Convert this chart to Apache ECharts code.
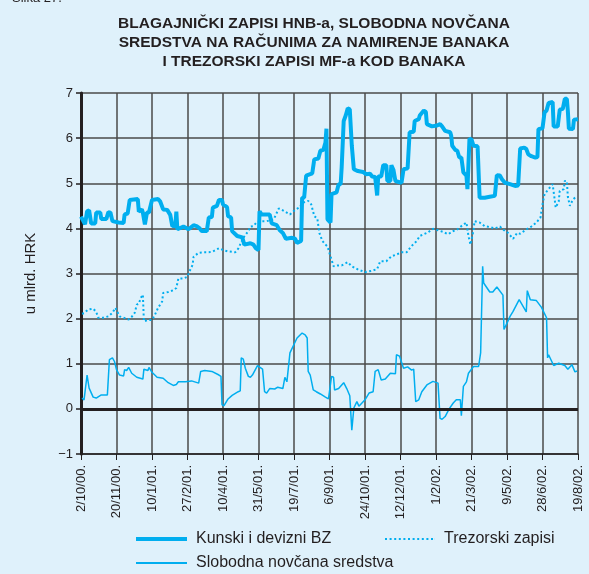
<!DOCTYPE html>
<html>
<head>
<meta charset="utf-8">
<script src="https://cdn.jsdelivr.net/npm/echarts@6/dist/echarts.min.js"></script>
<style>
  html, body { margin: 0; padding: 0; background: #dff1fb; }
  #chart { width: 589px; height: 574px; }
</style>
</head>
<body>
<div id="chart"></div>
<script>
// x = business-day index, one label every 35 days
const dateLabels = ['2/10/00.', '20/11/00.', '10/1/01.', '27/2/01.', '10/4/01.', '31/5/01.', '19/7/01.',
    '6/9/01.', '24/10/01.', '12/12/01.', '1/2/02.', '21/3/02.', '9/5/02.', '28/6/02.', '19/8/02.'];

// Kunski i devizni BZ
const bzDay = [0, 4, 6, 8, 10, 14, 15, 19, 20, 25, 27, 29, 31, 37, 42, 43, 46, 48, 56, 57, 60, 61, 63, 65, 67, 70,
    76, 78, 81, 85, 88, 90, 93, 94, 95, 101, 106, 111, 114, 117, 119, 124, 126, 129, 130, 134, 136, 139, 140, 144,
    145, 148, 149, 154, 159, 161, 167, 170, 172, 175, 176, 178, 180, 186, 188, 193, 196, 199, 202, 208, 211, 213,
    217, 218, 220, 222, 228, 230, 234, 236, 239, 241, 242, 243, 246, 247, 252, 254, 256, 257, 259, 261, 263, 265,
    267, 268, 269, 273, 278, 281, 285, 287, 290, 292, 293, 296, 298, 301, 302, 305, 306, 308, 310, 316, 318, 322,
    324, 328, 329, 333, 334, 338, 340, 341, 346, 351, 354, 356, 359, 364, 365, 366, 369, 371, 373, 375, 377, 380,
    381, 382, 383, 385, 387, 391, 393, 398, 403, 408, 410, 413, 415, 418, 423, 428, 431, 433, 437, 439, 441, 444,
    448, 450, 451, 455, 457, 459, 461, 465, 466, 470, 472, 475, 477, 479, 480, 481, 485, 486, 490];
const bzVal = [4.26, 4.09, 4.38, 4.40, 4.11, 4.11, 4.35, 4.35, 4.21, 4.21, 4.36, 4.35, 4.16, 4.13, 4.12, 4.31, 4.33,
    4.63, 4.65, 4.37, 4.42, 4.35, 4.09, 4.35, 4.35, 4.63, 4.65, 4.60, 4.42, 4.41, 4.30, 4.05, 4.06, 4.37, 3.98,
    4.04, 3.98, 4.07, 4.05, 4.00, 3.94, 3.94, 4.24, 4.25, 4.46, 4.50, 4.63, 4.63, 4.53, 4.47, 4.27, 4.24, 3.94,
    3.83, 3.80, 3.64, 3.67, 3.64, 3.57, 3.52, 4.38, 4.31, 4.31, 4.31, 4.11, 4.07, 3.96, 3.90, 3.77, 3.79, 3.77,
    3.68, 3.72, 4.68, 4.68, 5.17, 5.22, 5.53, 5.55, 5.72, 5.74, 5.90, 6.21, 4.20, 4.13, 4.76, 4.80, 4.98, 4.98,
    5.35, 6.38, 6.50, 6.66, 6.64, 5.83, 5.82, 5.31, 5.27, 5.25, 5.20, 5.21, 5.15, 5.14, 4.73, 5.15, 5.15, 5.40,
    5.40, 5.05, 5.05, 5.40, 5.30, 5.05, 5.01, 5.31, 5.33, 6.13, 6.14, 6.38, 6.42, 6.50, 6.61, 6.58, 6.31, 6.26,
    6.28, 6.31, 6.26, 6.16, 6.13, 6.05, 5.83, 5.74, 5.72, 5.57, 5.57, 5.24, 5.17, 4.87, 4.87, 5.99, 5.97, 5.83,
    5.82, 4.68, 4.68, 4.70, 4.72, 5.18, 5.17, 5.09, 5.01, 4.98, 4.94, 4.95, 5.77, 5.79, 5.76, 5.64, 5.60, 5.57,
    5.58, 6.20, 6.22, 6.57, 6.61, 6.78, 6.80, 6.26, 6.26, 6.63, 6.65, 6.87, 6.87, 6.60, 6.21, 6.20, 6.41, 6.42];

// Trezorski zapisi
const tzDay = [1, 3, 7, 12, 15, 17, 22, 27, 31, 34, 35, 38, 42, 47, 50, 53, 55, 57, 59, 61, 62, 66, 70, 73, 76, 80,
    81, 86, 91, 94, 96, 101, 105, 107, 110, 111, 116, 121, 126, 130, 136, 140, 145, 152, 155, 160, 165, 167, 170,
    173, 176, 183, 190, 195, 199, 206, 211, 215, 219, 224, 227, 230, 233, 235, 238, 241, 243, 246, 249, 253, 257,
    263, 267, 273, 280, 287, 292, 295, 301, 306, 311, 316, 321, 326, 331, 334, 338, 342, 347, 352, 357, 362, 367,
    372, 375, 380, 382, 384, 387, 388, 393, 398, 403, 408, 413, 418, 421, 426, 430, 433, 438, 444, 449, 453, 455,
    457, 462, 465, 467, 468, 471, 472, 476, 477, 479, 480, 482, 485, 489];
const tzVal = [2.11, 2.12, 2.20, 2.22, 2.15, 2.02, 2.02, 2.05, 2.13, 2.24, 2.22, 2.05, 2.02, 1.98, 2.04, 2.13, 2.31,
    2.33, 2.46, 2.53, 1.94, 1.97, 1.97, 2.09, 2.24, 2.38, 2.57, 2.59, 2.63, 2.68, 2.89, 2.89, 2.93, 3.05, 3.19,
    3.37, 3.46, 3.47, 3.47, 3.49, 3.56, 3.52, 3.49, 3.47, 3.55, 3.79, 3.94, 4.04, 4.05, 4.13, 4.16, 4.16, 4.20,
    4.44, 4.40, 4.31, 4.41, 4.46, 4.57, 4.61, 4.53, 4.27, 4.22, 3.90, 3.72, 3.64, 3.60, 3.38, 3.16, 3.18, 3.18,
    3.25, 3.16, 3.09, 3.03, 3.06, 3.10, 3.27, 3.27, 3.38, 3.42, 3.47, 3.47, 3.61, 3.72, 3.83, 3.87, 3.91, 3.99,
    3.96, 3.92, 3.87, 3.94, 3.99, 4.05, 4.13, 3.83, 3.64, 3.96, 4.16, 4.13, 4.05, 4.03, 4.00, 4.04, 3.94, 3.90,
    3.77, 3.90, 3.88, 3.96, 4.04, 4.13, 4.24, 4.53, 4.76, 4.90, 4.98, 4.64, 4.46, 4.60, 4.83, 4.87, 5.05, 5.05,
    4.70, 4.50, 4.64, 4.72];

// Slobodna novčana sredstva
const snDay = [1, 3, 6, 8, 12, 15, 20, 26, 28, 31, 33, 35, 38, 42, 43, 45, 47, 50, 55, 61, 62, 66, 67, 70, 75, 81,
    86, 91, 94, 96, 103, 109, 116, 118, 122, 129, 136, 138, 139, 141, 145, 149, 155, 157, 158, 160, 162, 165, 167,
    169, 174, 179, 181, 183, 186, 191, 194, 199, 201, 203, 206, 213, 218, 221, 223, 224, 226, 229, 232, 236, 241,
    244, 247, 249, 250, 254, 259, 262, 265, 267, 268, 269, 272, 274, 280, 284, 288, 290, 293, 296, 300, 305, 310,
    311, 314, 318, 322, 326, 328, 330, 333, 336, 341, 347, 352, 354, 356, 359, 363, 367, 370, 374, 375, 377, 380,
    382, 387, 392, 394, 396, 397, 403, 406, 410, 416, 417, 420, 423, 426, 432, 439, 440, 443, 449, 454, 459, 460,
    461, 466, 471, 477, 480, 484, 487, 489];
const snVal = [0.24, 0.20, 0.75, 0.46, 0.26, 0.24, 0.31, 0.31, 1.09, 1.13, 1.05, 0.87, 0.75, 0.73, 0.87, 0.85, 0.92,
    0.79, 0.70, 0.66, 0.88, 0.85, 0.92, 0.81, 0.70, 0.68, 0.58, 0.52, 0.54, 0.60, 0.60, 0.62, 0.57, 0.83, 0.85,
    0.83, 0.75, 0.72, 0.09, 0.07, 0.22, 0.30, 0.38, 0.40, 1.13, 1.10, 0.90, 0.72, 0.70, 0.75, 0.96, 0.88, 0.38,
    0.35, 0.45, 0.44, 0.48, 0.45, 0.70, 0.60, 1.24, 1.57, 1.68, 1.64, 1.57, 0.83, 0.75, 0.42, 0.38, 0.33, 0.26,
    0.22, 0.72, 0.70, 0.42, 0.45, 0.58, 0.45, 0.29, -0.47, -0.47, 0.02, 0.16, 0.06, 0.20, 0.35, 0.38, 0.83, 0.87,
    0.64, 0.66, 0.79, 0.78, 1.20, 1.17, 0.90, 0.93, 0.86, 0.88, 0.16, 0.20, 0.38, 0.53, 0.61, 0.57, -0.21, -0.23,
    -0.17, 0.00, 0.13, 0.20, 0.20, -0.15, 0.50, 0.60, 0.79, 0.94, 0.94, 1.24, 3.16, 2.79, 2.59, 2.59, 2.70, 2.52,
    1.76, 1.90, 2.05, 2.16, 2.42, 2.15, 2.62, 2.42, 2.40, 2.25, 2.02, 1.13, 1.20, 0.96, 1.01, 0.96, 0.88, 0.98,
    0.82, 0.84];

const pairs = (xs, ys) => xs.map((x, i) => [x, ys[i]]);

const cyan = '#00aeef';
const ink = '#231f20';
const font = 'Liberation Sans, Arial, sans-serif';

// dotted legend sample: little squares along a 50x2 strip
let dots = '';
for (let x = 0; x < 50; x += 4.6) dots += 'M' + x.toFixed(1) + ',0h2v2h-2z';
dots += 'M49.9,0h0.1v2h-0.1z';

const legendText = { fontSize: 16, color: ink, padding: [0, 0, 0, 4] };

const chart = echarts.init(document.getElementById('chart'));

chart.setOption({
    backgroundColor: '#dff1fb',
    animation: false,
    textStyle: { fontFamily: font, color: ink },
    title: {
        text: 'BLAGAJNIČKI ZAPISI HNB-a, SLOBODNA NOVČANA\nSREDSTVA NA RAČUNIMA ZA NAMIRENJE BANAKA\nI TREZORSKI ZAPISI MF-a KOD BANAKA',
        left: 309,
        top: 9,
        textAlign: 'center',
        textStyle: { fontSize: 15.5, fontWeight: 'bold', color: ink, lineHeight: 19, fontFamily: font }
    },
    graphic: [{
        type: 'text', left: 12, top: -8,
        style: { text: 'Slika 27.', fontSize: 13, fill: ink, fontFamily: font }
    }],
    legend: [{
        left: 131, top: 526, itemWidth: 51, itemHeight: 4, icon: 'rect',
        data: ['Kunski i devizni BZ'], textStyle: legendText
    }, {
        left: 131, top: 550, itemWidth: 51, itemHeight: 2, icon: 'rect',
        data: ['Slobodna novčana sredstva'], textStyle: legendText
    }, {
        left: 380, top: 526, itemWidth: 50, itemHeight: 2, icon: 'path://' + dots,
        data: ['Trezorski zapisi'], textStyle: legendText
    }],
    grid: { left: 81, right: 11, top: 93, bottom: 120 },
    xAxis: {
        type: 'value', min: 0, max: 490, interval: 35,
        axisLine: { onZero: false, lineStyle: { color: ink, width: 1.5 } },
        axisTick: { length: 6, lineStyle: { color: ink } },
        axisLabel: { rotate: 90, fontSize: 13, color: ink, margin: 11, formatter: v => dateLabels[Math.round(v / 35)] },
        splitLine: { show: true, lineStyle: { color: '#4a4a4a', width: 1.5 } }
    },
    yAxis: {
        type: 'value', min: -1, max: 7, interval: 1,
        name: 'u mlrd. HRK', nameLocation: 'middle', nameGap: 43,
        nameTextStyle: { fontSize: 15, color: ink },
        axisLine: { show: true, lineStyle: { color: ink, width: 3 } },
        axisTick: { show: true, length: 5, lineStyle: { color: ink, width: 1.5 } },
        axisLabel: { fontSize: 13, color: ink, margin: 8, formatter: v => v < 0 ? '\u2212' + Math.abs(v) : String(v) },
        splitLine: { lineStyle: { color: '#4a4a4a', width: 1.5 } }
    },
    series: [{
        name: 'Kunski i devizni BZ', type: 'line', symbol: 'none', z: 5,
        lineStyle: { color: cyan, width: 4 }, itemStyle: { color: cyan },
        data: pairs(bzDay, bzVal),
        markLine: {
            silent: true, symbol: 'none', label: { show: false },
            lineStyle: { color: ink, width: 3, type: 'solid' },
            data: [{ yAxis: 0 }]
        }
    }, {
        name: 'Trezorski zapisi', type: 'line', symbol: 'none', z: 4,
        lineStyle: { color: cyan, width: 2, type: [2, 2.5] }, itemStyle: { color: cyan },
        data: pairs(tzDay, tzVal)
    }, {
        name: 'Slobodna novčana sredstva', type: 'line', symbol: 'none', z: 4,
        lineStyle: { color: cyan, width: 1.5 }, itemStyle: { color: cyan },
        data: pairs(snDay, snVal)
    }]
});
</script>
</body>
</html>
